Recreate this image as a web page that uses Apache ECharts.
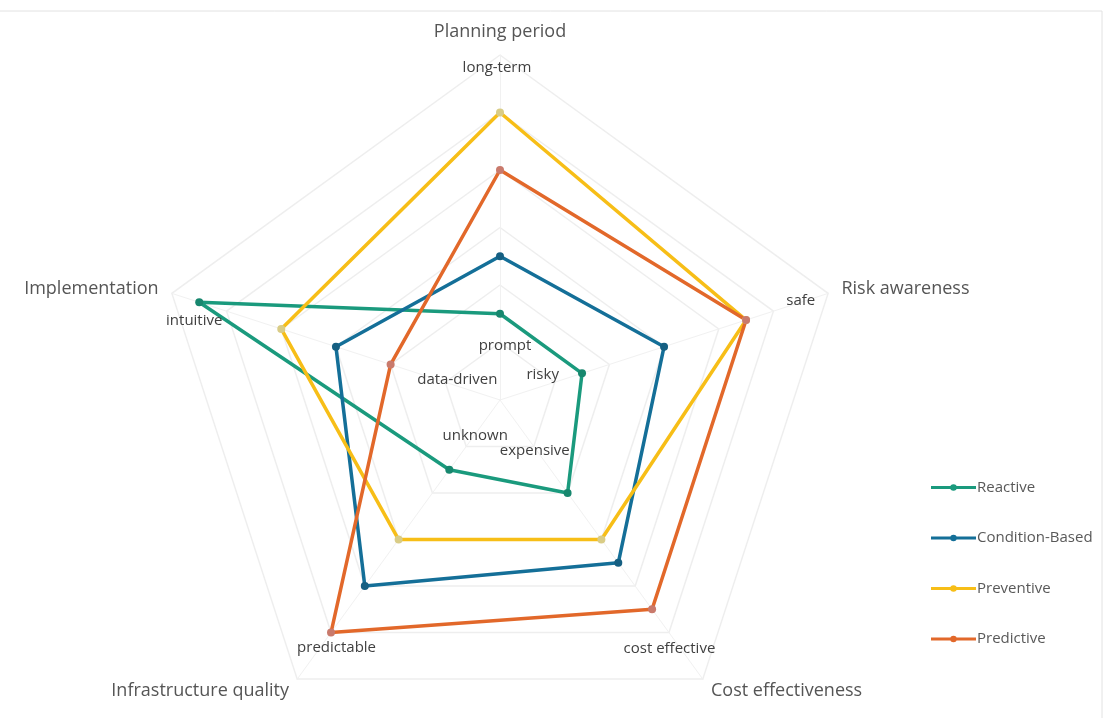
<!DOCTYPE html>
<html>
<head>
<meta charset="utf-8">
<script src="https://cdn.jsdelivr.net/npm/echarts@6/dist/echarts.min.js"></script>
<style>
  html, body { margin: 0; padding: 0; background: #ffffff; }
  #chart { width: 1115px; height: 718px; }
</style>
</head>
<body>
<div id="chart"></div>
<script>
// Radar axes, listed counter-clockwise from the top
const dimensions = ['Planning period', 'Implementation', 'Infrastructure quality', 'Cost effectiveness', 'Risk awareness'];
const scaleMax = 12;

// Scores of each maintenance strategy per dimension
const reactive = [3, 11, 3, 4, 3];
const conditionBased = [5, 6, 8, 7, 6];
const preventive = [10, 8, 6, 6, 9];
const predictive = [8, 4, 10, 9, 9];

const strategyNames = ['Reactive', 'Condition-Based', 'Preventive', 'Predictive'];

// Pole descriptions: high end and low end of every axis
const highEndNotes = ['long-term', 'intuitive', 'predictable', 'cost effective', 'safe'];
const lowEndNotes = ['prompt', 'data-driven', 'unknown', 'expensive', 'risky'];

const lineColors = ['#1a9a7d', '#146f98', '#f7be17', '#e2682a'];
const markerColors = ['#17876e', '#155f82', '#d9cc86', '#c97a6c'];

const chart = echarts.init(document.getElementById('chart'));

const seriesValues = [reactive, conditionBased, preventive, predictive];

// legend glyph: a line with a small dot in the middle
const legendIcon = 'path://M0,3.6H44V6.4H0Z M22,1.8A3.2,3.2 0 1 1 21.99,1.8Z';

chart.setOption({
  backgroundColor: '#ffffff',
  animation: false,
  legend: {
    orient: 'vertical',
    left: 926,
    top: 475,
    itemGap: 35.5,
    itemWidth: 45,
    itemHeight: 14,
    icon: legendIcon,
    textStyle: { fontFamily: 'Open Sans', fontSize: 15, lineHeight: 14, color: '#595959', padding: [0, 0, 0, -4] },
    data: strategyNames.map((n, i) => ({ name: n, itemStyle: { color: lineColors[i] } }))
  },
  radar: {
    center: [500, 400],
    radius: 345,
    startAngle: 90,
    splitNumber: 6,
    shape: 'polygon',
    indicator: dimensions.map(name => ({ name: name, max: scaleMax, min: 0 })),
    axisName: {
      color: '#555555',
      fontFamily: 'Open Sans',
      fontSize: 18
    },
    nameGap: 14,
    axisLine: { lineStyle: { color: '#f1f1f1', width: 1 } },
    splitLine: { lineStyle: { color: '#eeeeee', width: 1.5 } },
    splitArea: { show: false },
    axisTick: { show: false },
    axisLabel: { show: false }
  },
  series: [{
    type: 'radar',
    symbol: 'circle',
    symbolSize: 8,
    data: seriesValues.map((vals, i) => ({
      name: strategyNames[i],
      value: vals,
      lineStyle: { color: lineColors[i], width: 3.5 },
      itemStyle: { color: markerColors[i], borderColor: markerColors[i], borderWidth: 0 }
    }))
  }]
});

// Place the pole descriptions along the axes using the radar's own coordinate system
const radarCS = chart.getModel().getComponent('radar', 0).coordinateSystem;
const highEndAt = [11.55, 11, 10.5, 10.5, 11];
const highEndShift = [[-3, 0], [-5, 18], [14, 4], [-8, 5], [0, -2]];
const lowEndAt = [2, 2, 2, 2, 2];
const lowEndShift = [[5, 3], [12, -2], [9, -11], [1, 4], [-12, -7]];

function note(text, idx, at, shift) {
  const p = radarCS.dataToPoint(at, idx);
  return {
    type: 'text',
    x: p[0] + shift[0],
    y: p[1] + shift[1],
    style: {
      text: text,
      fill: '#404040',
      fontFamily: 'Open Sans',
      fontSize: 15,
      align: 'center',
      verticalAlign: 'middle'
    },
    z: 100
  };
}

const notes = [];
highEndNotes.forEach((t, i) => notes.push(note(t, i, highEndAt[i], highEndShift[i])));
lowEndNotes.forEach((t, i) => notes.push(note(t, i, lowEndAt[i], lowEndShift[i])));

// thin frame along the top and right edges
notes.push({
  type: 'rect',
  shape: { x: -5, y: 11, width: 1107, height: 730 },
  style: { fill: 'none', stroke: '#e2e2e2', lineWidth: 1 },
  silent: true
});

chart.setOption({ graphic: notes });
</script>
</body>
</html>
